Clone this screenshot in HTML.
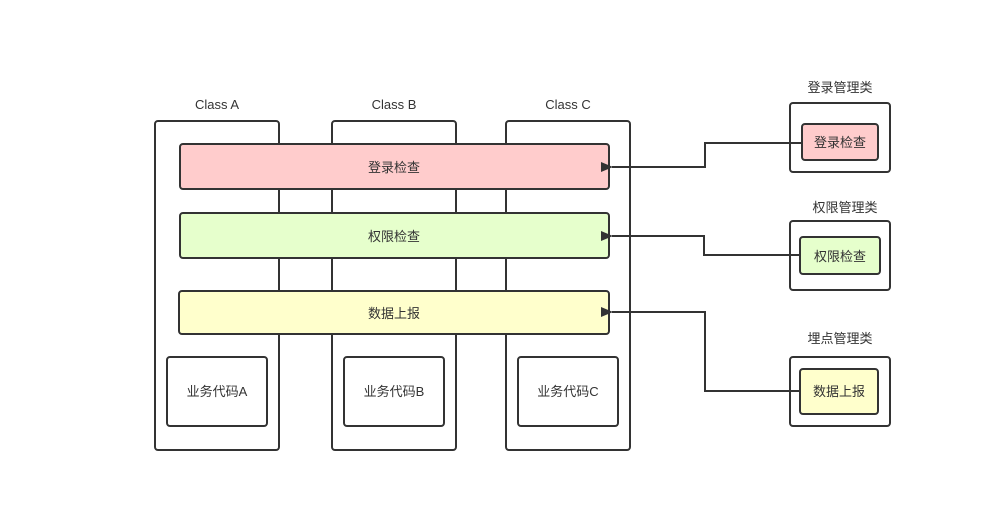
<!DOCTYPE html>
<html><head><meta charset="utf-8"><style>
html,body{margin:0;padding:0;background:#fff;}
svg{display:block;}
text{font-family:"Liberation Sans","Noto Sans CJK SC",sans-serif;font-size:13px;fill:#333;}
</style></head><body>
<svg width="987" height="512" viewBox="0 0 987 512" xmlns="http://www.w3.org/2000/svg">
<defs><marker id="ar" markerWidth="12" markerHeight="10" refX="1" refY="5" orient="auto" markerUnits="userSpaceOnUse"><path d="M12,0 L0,5 L12,10 Z" fill="#333"/></marker></defs>
<g fill="#fff" stroke="#333" stroke-width="2">
<rect x="155" y="121" width="124" height="329" rx="3"/>
<rect x="332" y="121" width="124" height="329" rx="3"/>
<rect x="506" y="121" width="124" height="329" rx="3"/>
<rect x="180" y="144" width="429" height="45" rx="3" fill="#ffcccc"/>
<rect x="180" y="213" width="429" height="45" rx="3" fill="#e6ffcc"/>
<rect x="179" y="291" width="430" height="43" rx="3" fill="#ffffcc"/>
<rect x="167" y="357" width="100" height="69" rx="3"/>
<rect x="344" y="357" width="100" height="69" rx="3"/>
<rect x="518" y="357" width="100" height="69" rx="3"/>
<rect x="790" y="103" width="100" height="69" rx="3"/>
<rect x="802" y="124" width="76" height="36" rx="3" fill="#ffcccc"/>
<rect x="790" y="221" width="100" height="69" rx="3"/>
<rect x="800" y="237" width="80" height="37" rx="3" fill="#e6ffcc"/>
<rect x="790" y="357" width="100" height="69" rx="3"/>
<rect x="800" y="369" width="78" height="45" rx="3" fill="#ffffcc"/>
</g>
<g fill="none" stroke="#333" stroke-width="2">
<polyline points="802,143 705,143 705,167 612,167" marker-end="url(#ar)"/>
<polyline points="800,255 704,255 704,236 612,236" marker-end="url(#ar)"/>
<polyline points="800,391 705,391 705,312 612,312" marker-end="url(#ar)"/>
</g>
<g text-anchor="middle">
<text x="217" y="109">Class A</text>
<text x="394" y="109">Class B</text>
<text x="568" y="109">Class C</text>
<text x="394" y="172">登录检查</text>
<text x="394" y="241">权限检查</text>
<text x="394" y="318">数据上报</text>
<text x="217" y="396">业务代码A</text>
<text x="394" y="396">业务代码B</text>
<text x="568" y="396">业务代码C</text>
<text x="840" y="92">登录管理类</text>
<text x="845" y="212">权限管理类</text>
<text x="840" y="343">埋点管理类</text>
<text x="840" y="147">登录检查</text>
<text x="840" y="261">权限检查</text>
<text x="839" y="396">数据上报</text>
</g>
</svg>
</body></html>
